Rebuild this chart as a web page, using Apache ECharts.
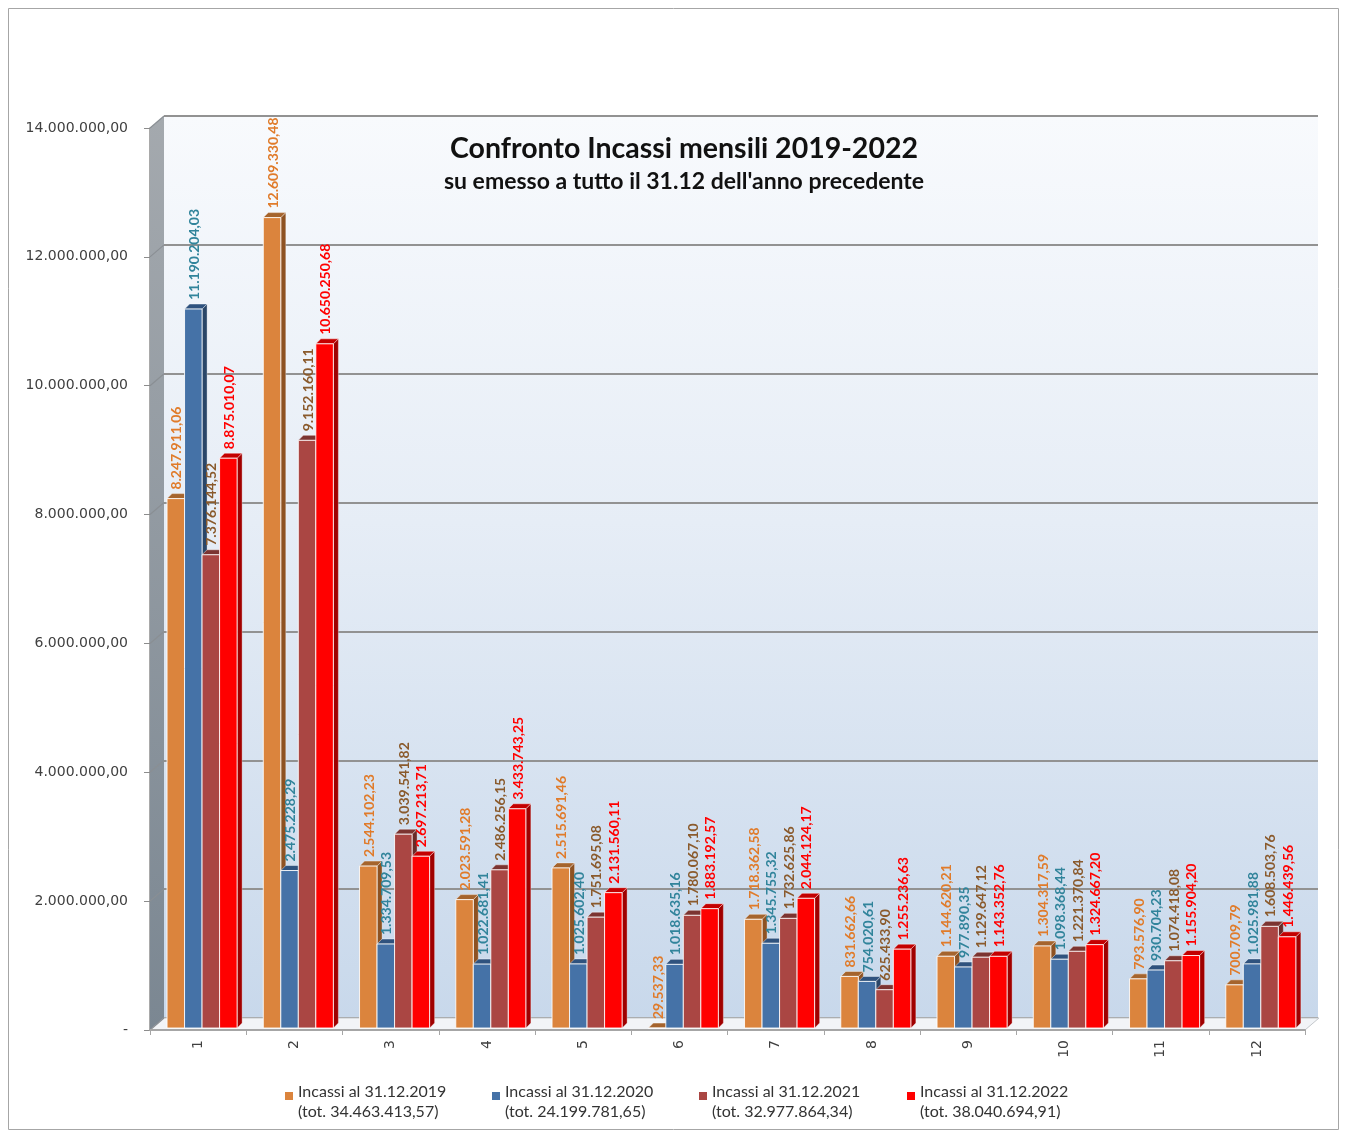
<!DOCTYPE html>
<html>
<head>
<meta charset="utf-8">
<title>Confronto Incassi mensili 2019-2022</title>
<script src="https://cdn.jsdelivr.net/npm/echarts@6/dist/echarts.min.js"></script>
<style>
  html, body { margin: 0; padding: 0; background: #ffffff; }
  #chart { width: 1347px; height: 1131px; }
</style>
</head>
<body>
<div id="chart"></div>
<script>
// Months 1..12
const months = ['1', '2', '3', '4', '5', '6', '7', '8', '9', '10', '11', '12'];

// Monthly receipts per year
const incassi2019 = [8247911.06, 12609330.48, 2544102.23, 2023591.28, 2515691.46, 29537.33,
                     1718362.58, 831662.66, 1144620.21, 1304317.59, 793576.90, 700709.79];
const incassi2020 = [11190204.03, 2475228.29, 1334709.53, 1022681.41, 1025602.40, 1018635.16,
                     1345755.32, 754020.61, 977890.35, 1098368.44, 930704.23, 1025981.88];
const incassi2021 = [7376144.52, 9152160.11, 3039541.82, 2486256.15, 1751695.08, 1780067.10,
                     1732625.86, 625433.90, 1129647.12, 1221370.84, 1074418.08, 1608503.76];
const incassi2022 = [8875010.07, 10650250.68, 2697213.71, 3433743.25, 2131560.11, 1883192.57,
                     2044124.17, 1255236.63, 1143352.76, 1324667.20, 1155904.20, 1446439.56];

const seriesNames = ['Incassi al 31.12.2019', 'Incassi al 31.12.2020',
                     'Incassi al 31.12.2021', 'Incassi al 31.12.2022'];

// Value axis ticks
const yMin = 0, yMax = 14000000, yStep = 2000000;

// Colours: front face, side face, top face, value label
const palette = [
  { front: '#DB843D', side: '#8E5222', top: '#A5642D', label: '#E07B2A' },
  { front: '#4572A7', side: '#2A4668', top: '#2F527E', label: '#31849B' },
  { front: '#AA4643', side: '#6A2B29', top: '#7C3431', label: '#8A5A2C' },
  { front: '#FF0000', side: '#A00000', top: '#C40000', label: '#FF0000' }
];

// Italian number format: 1.234.567,89
function fmt(v) {
  const parts = v.toFixed(2).split('.');
  return parts[0].replace(/\B(?=(\d{3})+(?!\d))/g, '.') + ',' + parts[1];
}

const allSeries = [incassi2019, incassi2020, incassi2021, incassi2022];
const totals = allSeries.map(arr => Math.round(arr.reduce((a, b) => a + b, 0) * 100) / 100);

// plot geometry
const GRID = { left: 150, top: 128, right: 42, bottom: 101 };
const WALL = { dx: 14, dy: 12 };     // depth of the back wall
const BAR = { depth: 5, width: 0.182, start: -0.323 };

function barRenderer(s) {
  const c = palette[s];
  return function (params, api) {
    const cat = api.value(0);
    const v = api.value(1);
    const top = api.coord([cat, v]);
    const base = api.coord([cat, 0]);
    const band = api.size([1, 0])[0];
    const w = band * BAR.width;
    const x0 = top[0] + band * BAR.start + s * w;
    const x1 = x0 + w;
    const yT = top[1];
    const yB = base[1] - 2;
    const d = BAR.depth;
    return {
      type: 'group',
      children: [
        { type: 'polygon', shape: { points: [[x1, yT], [x1 + d, yT - d], [x1 + d, yB - d], [x1, yB]] },
          style: { fill: c.side, stroke: 'rgba(255,255,255,0.55)', lineWidth: 0.6 } },
        { type: 'polygon', shape: { points: [[x0, yT], [x1, yT], [x1 + d, yT - d], [x0 + d, yT - d]] },
          style: { fill: c.top, stroke: 'rgba(255,255,255,0.7)', lineWidth: 0.6 } },
        { type: 'rect', shape: { x: x0, y: yT, width: w, height: Math.max(0, yB - yT) },
          style: { fill: c.front, stroke: 'rgba(255,255,255,0.85)', lineWidth: 1 } },
        { type: 'text', x: x0 + w / 2 + 1, y: yT - d - 4, rotation: Math.PI / 2,
          style: { text: fmt(v), fill: c.label, font: 'bold 14px Lato, "Open Sans", sans-serif',
                   align: 'left', verticalAlign: 'middle' } }
      ]
    };
  };
}

const chart = echarts.init(document.getElementById('chart'), null, { renderer: 'canvas' });

const legendLefts = [280, 487, 694, 902];

const option = {
  animation: false,
  backgroundColor: '#ffffff',
  title: {
    text: 'Confronto Incassi mensili 2019-2022',
    subtext: "su emesso a tutto il 31.12 dell'anno precedente",
    left: 679, top: 129, textAlign: 'center', itemGap: 7,
    textStyle: { fontFamily: 'Lato, sans-serif', fontWeight: 'bold', fontSize: 28.5, color: '#111111' },
    subtextStyle: { fontFamily: 'Lato, sans-serif', fontWeight: 'bold', fontSize: 23, color: '#111111' }
  },
  legend: seriesNames.map((n, i) => ({
    data: [n],
    left: legendLefts[i], top: 1077,
    orient: 'horizontal',
    icon: 'path://M0,0L8,0L8,8L0,8Z M0,20L0.01,20',
    itemWidth: 8, itemHeight: 28, itemGap: 6,
    selectedMode: false,
    formatter: name => name + '\n(tot. ' + fmt(totals[seriesNames.indexOf(name)]) + ')',
    textStyle: { fontFamily: 'Lato, sans-serif', fontSize: 16, color: '#333333', lineHeight: 20 }
  })),
  grid: [
    { left: GRID.left, top: GRID.top, right: GRID.right, bottom: GRID.bottom, containLabel: false },
    { left: GRID.left + WALL.dx, top: GRID.top - WALL.dy, right: GRID.right - WALL.dx + 1,
      bottom: GRID.bottom + WALL.dy, show: true, borderWidth: 0,
      backgroundColor: new echarts.graphic.LinearGradient(0, 0, 0, 1, [
        { offset: 0, color: '#f8fafd' }, { offset: 0.45, color: '#e6edf6' }, { offset: 1, color: '#c8d8eb' }
      ]) }
  ],
  xAxis: [
    { type: 'category', gridIndex: 0, data: months, boundaryGap: true,
      axisLine: { show: true, lineStyle: { color: '#a6a6a6', width: 2 } },
      axisTick: { show: true, alignWithLabel: false, length: 5, lineStyle: { color: '#a6a6a6' } },
      axisLabel: { rotate: 90, margin: 10, fontFamily: '"DejaVu Sans", sans-serif', fontSize: 14, color: '#404040' },
      z: 3 },
    { type: 'category', gridIndex: 1, data: months, show: false }
  ],
  yAxis: [
    { type: 'value', gridIndex: 0, min: yMin, max: yMax, interval: yStep,
      axisLine: { show: true, lineStyle: { color: '#8c8c8c', width: 1.5 } },
      axisTick: { show: true, length: 6, lineStyle: { color: '#8c8c8c' } },
      splitLine: { show: false },
      axisLabel: { margin: 22, fontFamily: '"DejaVu Sans", sans-serif', fontSize: 14, color: '#404040',
                   formatter: v => (v === 0 ? '-' : fmt(v)) } },
    { type: 'value', gridIndex: 1, min: yMin, max: yMax, interval: yStep,
      axisLine: { show: false }, axisTick: { show: false }, axisLabel: { show: false },
      splitLine: { show: true, lineStyle: { color: '#929292', width: 2 } } }
  ],
  series: allSeries.map((arr, s) => ({
    name: seriesNames[s],
    type: 'custom',
    xAxisIndex: 0, yAxisIndex: 0,
    itemStyle: { color: palette[s].front },
    renderItem: barRenderer(s),
    encode: { x: 0, y: 1 },
    data: arr.map((v, i) => [i, v]),
    z: 5
  }))
};

chart.setOption(option);

// side wall, floor, grid connectors on the side wall and outer frame
(function drawWalls() {
  const W = chart.getWidth(), H = chart.getHeight();
  const xL = GRID.left, xR = W - GRID.right;
  const yT = GRID.top, yB = H - GRID.bottom;
  const dx = WALL.dx, dy = WALL.dy;
  const els = [];
  els.push({ type: 'rect', shape: { x: 8.5, y: 8.5, width: W - 17, height: H - 10 },
             style: { fill: 'none', stroke: '#a6a6a6', lineWidth: 1 }, z: 0 });
  els.push({ type: 'polygon', shape: { points: [[xL, yT], [xL + dx, yT - dy], [xL + dx, yB - dy], [xL, yB]] },
             style: { fill: new echarts.graphic.LinearGradient(0, 0, 0, 1, [
               { offset: 0, color: '#a4a9ae' }, { offset: 1, color: '#7b8792' }]) }, z: 1 });
  els.push({ type: 'polygon', shape: { points: [[xL, yB], [xL + dx, yB - dy], [xR + dx, yB - dy], [xR, yB]] },
             style: { fill: '#f2f4f7', stroke: '#c4c8cc', lineWidth: 1 }, z: 1 });
  for (let v = yMin; v <= yMax; v += yStep) {
    const y = chart.convertToPixel({ yAxisIndex: 0 }, v);
    els.push({ type: 'line', shape: { x1: xL, y1: y, x2: xL + dx, y2: y - dy },
               style: { stroke: '#8a8f94', lineWidth: 1.2 }, z: 2 });
  }
  chart.setOption({ graphic: els });
})();
</script>
</body>
</html>
